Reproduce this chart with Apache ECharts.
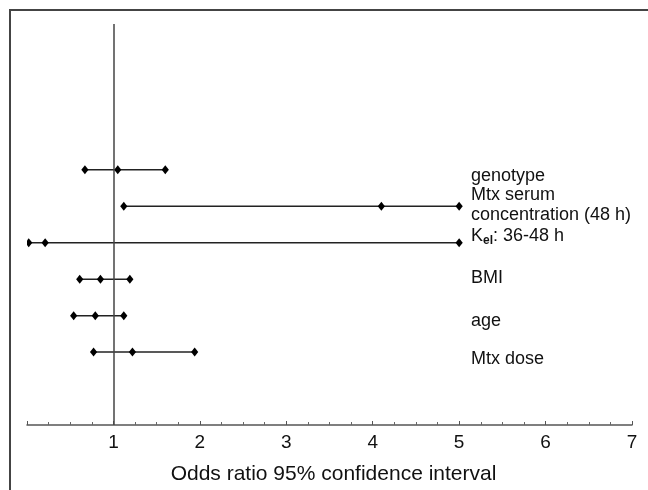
<!DOCTYPE html>
<html>
<head>
<meta charset="utf-8">
<title>Odds ratio</title>
<script src="https://cdn.jsdelivr.net/npm/echarts@6/dist/echarts.min.js"></script>
<style>
html,body{margin:0;padding:0;background:#fff;}
#main{width:648px;height:490px;}
</style>
</head>
<body>
<div id="main"></div>
<script>
// rows, top to bottom
var factors = ['genotype', 'Mtx serum concentration (48 h)', 'Kel: 36-48 h', 'BMI', 'age', 'Mtx dose'];
var rowPos = [7, 6, 5, 4, 3, 2];
var lowCI = [0.67, 1.12, 0.02, 0.61, 0.54, 0.77];
var oddsRatio = [1.05, 4.10, 0.21, 0.85, 0.79, 1.22];
var highCI = [1.60, 5.00, 5.00, 1.19, 1.12, 1.94];
var xTicks = [1, 2, 3, 4, 5, 6, 7];

var fontName = '"Liberation Sans", Arial, sans-serif';

var ciData = [];
for (var i = 0; i < factors.length; i++) {
	ciData.push([lowCI[i], oddsRatio[i], highCI[i], rowPos[i]]);
}

function diamond(p, s) {
	return [[p[0], p[1] - s], [p[0] + s * 0.8, p[1]], [p[0], p[1] + s], [p[0] - s * 0.8, p[1]]];
}

function renderCI(params, api) {
	var y = api.value(3);
	var a = api.coord([api.value(0), y]);
	var b = api.coord([api.value(1), y]);
	var c = api.coord([api.value(2), y]);
	var children = [{
		type: 'line',
		shape: {x1: a[0], y1: a[1], x2: c[0], y2: c[1]},
		style: {stroke: '#222', lineWidth: 1.5}
	}];
	[a, b, c].forEach(function (p) {
		children.push({
			type: 'polygon',
			shape: {points: diamond(p, 4.5)},
			style: {fill: '#000'}
		});
	});
	return {type: 'group', children: children};
}

var myChart = echarts.init(document.getElementById('main'), null, {renderer: 'canvas'});

var option = {
	animation: false,
	backgroundColor: '#fff',
	grid: {left: 27, right: 16, top: 24, bottom: 65, containLabel: false},
	xAxis: {
		type: 'value',
		min: 0,
		max: 7,
		interval: 1,
		name: 'Odds ratio 95% confidence interval',
		nameLocation: 'middle',
		nameGap: 39,
		nameTextStyle: {fontFamily: fontName, fontSize: 21, color: '#111', padding: [0, 0, 0, 8]},
		axisLine: {show: true, onZero: false, lineStyle: {color: '#555', width: 1.5}},
		axisTick: {show: true, inside: true, length: 4, lineStyle: {color: '#555'}},
		minorTick: {show: true, splitNumber: 4, length: 3, lineStyle: {color: '#666'}},
		splitLine: {show: false},
		axisLabel: {
			fontFamily: fontName,
			fontSize: 19,
			color: '#111',
			margin: 8,
			formatter: function (v) {
				return xTicks.indexOf(v) >= 0 ? String(v) : '';
			}
		}
	},
	yAxis: {
		type: 'value',
		min: 0,
		max: 11,
		show: false
	},
	series: [
		{
			type: 'custom',
			clip: true,
			renderItem: renderCI,
			encode: {x: [0, 1, 2], y: 3},
			data: ciData,
			markLine: {
				silent: true,
				symbol: 'none',
				label: {show: false},
				lineStyle: {color: '#444', width: 1.5, type: 'solid'},
				data: [{xAxis: 1}]
			}
		}
	],
	graphic: [
		{
			type: 'polyline',
			shape: {points: [[10, 490], [10, 10], [648, 10]]},
			style: {stroke: '#444', lineWidth: 2, fill: null}
		}
	]
};

myChart.setOption(option);

// factor labels placed beside the rows, right of the plotted intervals
var labelOffsets = [6, -1, -7, -1, 5, 7];
var labelX = 471;
var labelTexts = [];
for (var j = 0; j < factors.length; j++) {
	var py = myChart.convertToPixel({gridIndex: 0}, [0, rowPos[j]])[1] + labelOffsets[j];
	var txt;
	var rich = {
		k: {fontFamily: fontName, fontSize: 18, color: '#111'},
		sub: {fontFamily: fontName, fontSize: 12, fontWeight: 'bold', color: '#111', padding: [10, 0, 0, 0]}
	};
	if (j === 1) {
		txt = 'Mtx serum\nconcentration (48 h)';
	} else if (j === 2) {
		txt = '{k|K}{sub|el}{k|: 36-48 h}';
	} else {
		txt = factors[j];
	}
	labelTexts.push({
		type: 'text',
		x: labelX,
		y: py,
		style: {
			text: txt,
			rich: rich,
			fontFamily: fontName,
			fontSize: 18,
			lineHeight: 20,
			fill: '#111',
			verticalAlign: 'middle',
			align: 'left'
		}
	});
}
myChart.setOption({graphic: option.graphic.concat(labelTexts)});
</script>
</body>
</html>
